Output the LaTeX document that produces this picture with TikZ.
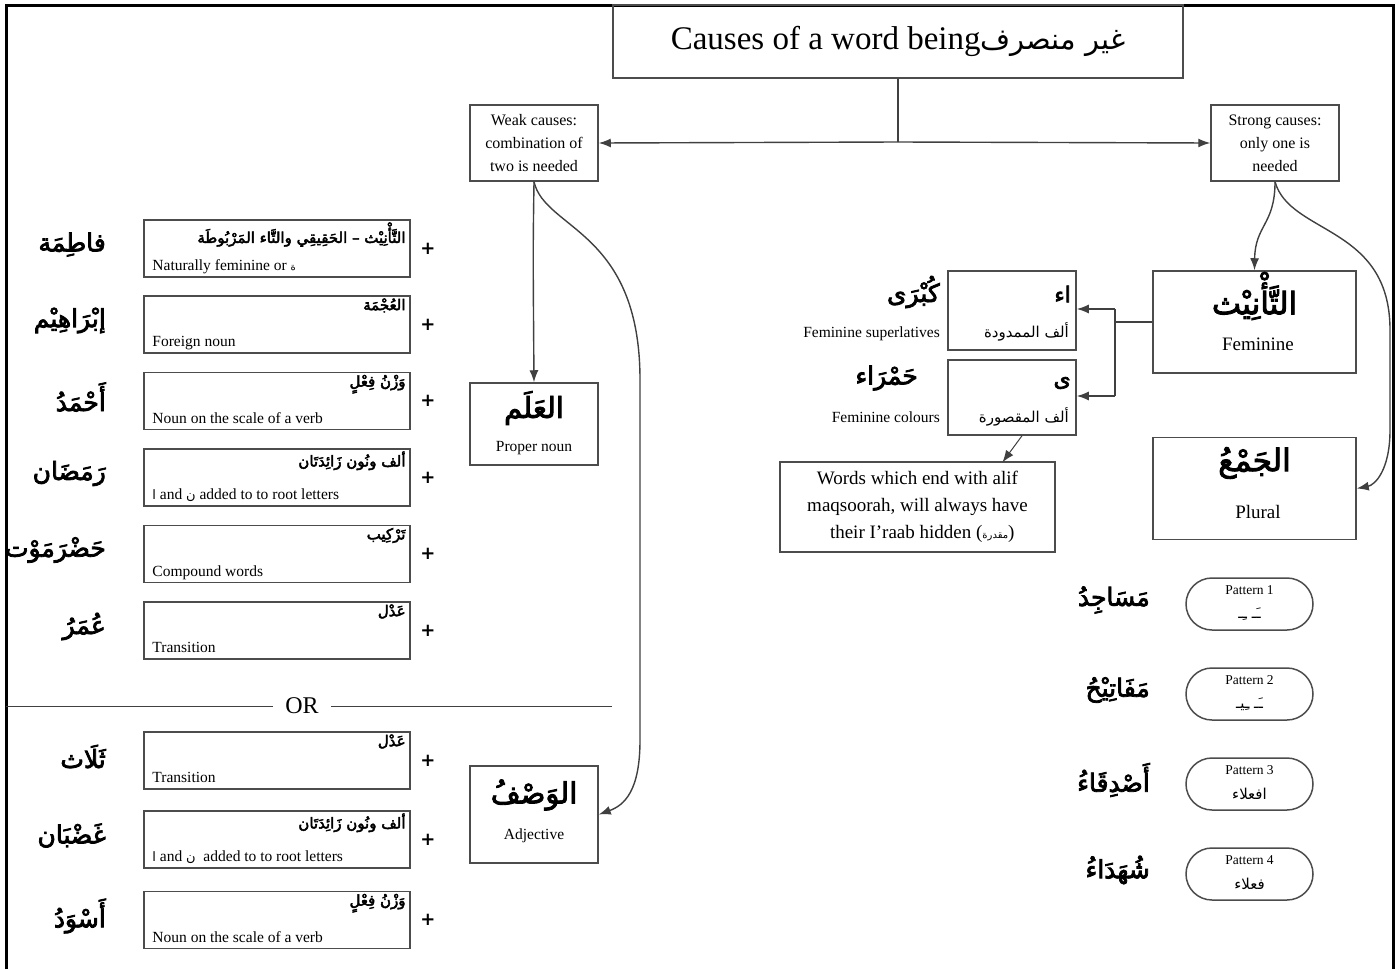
\documentclass[tikz,border=0pt]{standalone}
\usepackage{fontspec}
\setmainfont{Liberation Serif}
\newfontfamily\arabicfont[Script=Arabic]{DejaVu Sans}
\newfontfamily\arabicbold[Script=Arabic,FakeBold=3]{DejaVu Sans}
\newfontfamily\plusfont{DejaVu Sans}
\TeXXeTstate=1
\usetikzlibrary{arrows.meta}

% Arabic text helpers (right-to-left runs)
\newcommand{\artxt}[2]{{\arabicfont\fontsize{#1}{#1}\selectfont\beginR #2\endR}}
\newcommand{\arbig}[2]{{\arabicbold\fontsize{#1}{#1}\selectfont\beginR #2\endR}}
\newcommand{\sz}[1]{\fontsize{#1}{#1}\selectfont}

\tikzset{
  frame/.style={line width=3pt, black},
  box/.style={draw=black!70, line width=1.5pt, inner sep=0pt},
  cbox/.style={box, minimum width=266, minimum height=57},
  tbox/.style={box, minimum width=128, align=center, font=\fontsize{16}{23}\selectfont},
  bigbox/.style={box, minimum width=203, minimum height=102},
  pill/.style={box, rounded corners=26pt, minimum width=127, minimum height=52},
  conn/.style={draw=black!75, line width=1.4pt},
  arr/.style={conn, -{Latex[length=12pt,width=9pt]}},
  entxt/.style={inner sep=0pt, font=\fontsize{15.5}{15.5}\selectfont},
  plus/.style={inner sep=0pt, font=\plusfont\bfseries\fontsize{18}{18}\selectfont},
}

% One weak-cause row: name, y, Arabic label, English label, example word
\newcommand{\causerow}[5]{%
  \node[cbox] (#1) at (277,#2) {};
  \node[inner sep=0pt, anchor=north east] (#1a) at ([xshift=-5,yshift=-3]#1.north east) {\arbig{15}{#3}};
  \node[entxt, anchor=base west] (#1e) at ([xshift=9,yshift=7]#1.south west) {#4};
  \node[plus] (#1p) at (428,#2) {+};
  \node[inner sep=0pt, anchor=east] (#1w) at (106,#2-4) {\arbig{25}{#5}};
}

% One plural pattern: name, y, pattern line, example word
\newcommand{\patrow}[5]{%
  \node[pill] (#1) at (1249.5,#2) {};
  \node[inner sep=0pt, font=\sz{13.5}] (#1t) at (1249.5,#2-14) {#3};
  \node[inner sep=0pt] (#1s) at (1249.5,#2+10) {\artxt{15}{#4}};
  \node[inner sep=0pt, anchor=east] (#1w) at (1150,#2-4) {\arbig{25}{#5}};
}

\begin{document}
\begin{tikzpicture}[x=1pt, y=-1pt]
\useasboundingbox (0,0) rectangle (1399,969);

% outer frame
\draw[frame] (6,969) -- (6,5) -- (1393,5) -- (1393,969);

% title and the two kinds of causes
\node[box, minimum width=570, minimum height=73] (title) at (898,41.5)
  {\sz{33}Causes of a word being\artxt{29}{غير منصرف}};
\node[tbox, minimum height=76] (weak) at (534,143) {Weak causes:\\combination of\\two is needed};
\node[tbox, minimum height=76] (strong) at (1275,143) {Strong causes:\\only one is\\needed};
\coordinate (j) at (898,142);
\draw[conn] (title.south) -- (j);
\draw[arr] (j) -- (weak.east);
\draw[arr] (j) -- (strong.west);

% weak causes: proper noun and adjective
\node[box, minimum width=128, minimum height=82] (proper) at (534,424) {};
\node[inner sep=0pt] (properA) at (534,408) {\arbig{29}{العَلَم}};
\node[inner sep=0pt, font=\sz{15.5}] (properE) at (534,448) {Proper noun};
\node[box, minimum width=128, minimum height=97] (adj) at (534,814.5) {};
\node[inner sep=0pt] (adjA) at (534,795) {\arbig{29}{الوَصْفُ}};
\node[inner sep=0pt, font=\sz{15.5}] (adjE) at (534,836) {Adjective};
\draw[arr] (weak.south) .. controls (533,250) .. (proper.north);
\draw[arr] (weak.south) .. controls (545,230) and (640,230) .. (640,380)
  -- (640,740) .. controls (640,790) and (625,805) .. (adj.east);

% proper-noun combinations
\causerow{c1}{248.5}{التَّأْنِيْث – الحَقِيقِي والتَّاء المَرْبُوطَة}{Naturally feminine or \artxt{10}{ة}}{فاطِمَة}
\causerow{c2}{324.5}{العُجْمَة}{Foreign noun}{إبْرَاهِيْم}
\causerow{c3}{401}{وَزْنُ فِعْلٍ}{Noun on the scale of a verb}{أَحْمَدُ}
\causerow{c4}{477.5}{ألف ونُون زَائِدَتَان}{\artxt{13}{ا} and \artxt{13}{ن} added to to root letters}{رَمَضَان}
\causerow{c5}{554}{تَرْكِيب}{Compound words}{حَضْرَمَوْت}
\causerow{c6}{630.5}{عَدْل}{Transition}{عُمَرُ}

% separator
\coordinate (orl) at (6,706);
\coordinate (orr) at (612,706);
\node[inner sep=0pt, font=\sz{24}] (or) at (302,706) {OR};
\draw[conn, line width=1pt] (orl) -- ([xshift=-12]or.west);
\draw[conn, line width=1pt] ([xshift=12]or.east) -- (orr);

% adjective combinations
\causerow{d1}{760.5}{عَدْل}{Transition}{ثَلَاث}
\causerow{d2}{839.5}{ألف ونُون زَائِدَتَان}{\artxt{13}{ا} and \artxt{13}{ن}\ \ added to to root letters}{غَضْبَان}
\causerow{d3}{920}{وَزْنُ فِعْلٍ}{Noun on the scale of a verb}{أَسْوَدُ}

% strong causes: feminine and plural
\node[bigbox] (fem) at (1254.5,322) {};
\node[inner sep=0pt] (femA) at (1254.5,296) {\arbig{31}{التَّأْنِيْث}};
\node[inner sep=0pt, font=\sz{19}] (femE) at (1258,344) {Feminine};
\node[bigbox] (plural) at (1254.5,488.5) {};
\node[inner sep=0pt] (pluralA) at (1254.5,463) {\arbig{31}{الجَمْعُ}};
\node[inner sep=0pt, font=\sz{19}] (pluralE) at (1258,512) {Plural};
\draw[arr] (strong.south) .. controls (1275,225) and (1255,225) .. (fem.north);
\draw[arr] (strong.south) .. controls (1290,235) and (1390,225) .. (1390,330)
  -- (1390,430) .. controls (1390,470) and (1375,485) .. (plural.east);

% kinds of feminine alif
\node[box, minimum width=128, minimum height=79] (mamd) at (1012,310.5) {};
\node[inner sep=0pt, anchor=east] (mamdA) at (1071,294) {\arbig{22}{اء}};
\node[inner sep=0pt, anchor=east] (mamdN) at (1069,332) {\artxt{15}{ألف الممدودة}};
\node[box, minimum width=128, minimum height=75] (maqs) at (1012,397.5) {};
\node[inner sep=0pt, anchor=east] (maqsA) at (1071,383) {\arbig{22}{ى}};
\node[inner sep=0pt, anchor=east] (maqsN) at (1069,417) {\artxt{15}{ألف المقصورة}};
\coordinate (b1) at (1115,309);
\coordinate (b2) at (1115,396);
\draw[conn] (fem.west) -- (fem.west -| b1);
\draw[conn] (b1) -- (b2);
\draw[arr] (b1) -- (b1 -| mamd.east);
\draw[arr] (b2) -- (b2 -| maqs.east);

\node[inner sep=0pt, anchor=east] (kubra) at (940,292) {\arbig{25}{كُبْرَى}};
\node[entxt, anchor=base east] (supE) at (940,337) {Feminine superlatives};
\node[inner sep=0pt, anchor=east] (hamra) at (918,378) {\arbig{25}{حَمْرَاء}};
\node[entxt, anchor=base east] (colE) at (940,422) {Feminine colours};

% note on alif maqsoorah
\node[box, minimum width=275, minimum height=90, align=center, font=\fontsize{19}{27}\selectfont] (note) at (917.5,507)
  {Words which end with alif\\maqsoorah, will always have\\\ \ their I'raab hidden (\artxt{10}{مقدرة})};
\draw[arr, line width=1pt] ([xshift=10]maqs.south) -- ([xshift=85,yshift=-1]note.north);

% plural patterns
\patrow{p1}{604}{Pattern 1}{ـَـ ـِـ}{مَسَاجِدُ}
\patrow{p2}{694}{Pattern 2}{ـَـ ـِيـ}{مَفَاتِيْحُ}
\patrow{p3}{784}{Pattern 3}{افعلاء}{أَصْدِقَاءُ}
\patrow{p4}{874}{Pattern 4}{فعلاء}{شُهَدَاءُ}
\end{tikzpicture}
\end{document}
